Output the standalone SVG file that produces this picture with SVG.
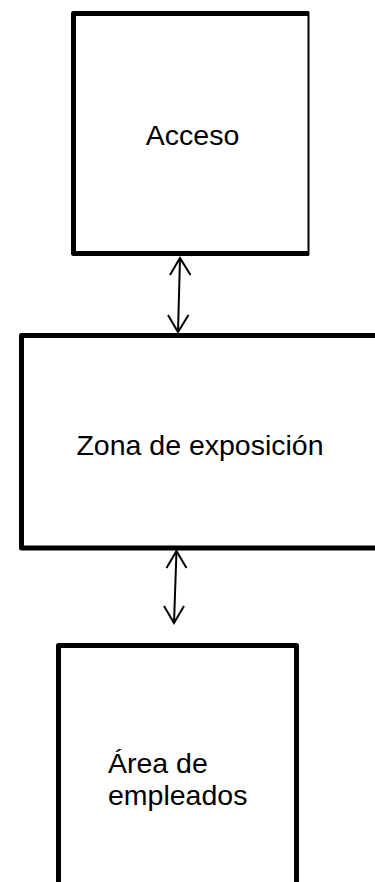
<svg xmlns="http://www.w3.org/2000/svg" width="375" height="882" viewBox="0 0 375 882">
<style>
.box{fill:#fff;stroke:#000;stroke-width:5;stroke-linejoin:round}
.thin{fill:none;stroke:#000;stroke-width:2}
.lbl{font-family:"Liberation Sans",Arial,sans-serif;font-size:28.5px;fill:#000}
.conn{fill:none;stroke:#000;stroke-width:2}
.head{fill:none;stroke:#000;stroke-width:2;stroke-linejoin:miter}
</style>
<rect width="375" height="882" fill="#fff"/>
<g id="node-acceso">
<path class="box" d="M309,13.5 H73.5 V253.5 H309"/>
<line class="thin" x1="308.5" y1="12" x2="308.5" y2="255"/>
<text class="lbl" x="192.5" y="145" text-anchor="middle">Acceso</text>
</g>
<g id="node-zona">
<path class="box" d="M380,335.5 H21.5 V548 H380"/>
<text class="lbl" x="200" y="455" text-anchor="middle">Zona de exposición</text>
</g>
<g id="node-empleados">
<path class="box" d="M58.5,890 V645.5 H296.5 V890"/>
<text class="lbl"><tspan x="108" y="773">Área de</tspan><tspan x="108" y="805">empleados</tspan></text>
</g>
<g id="connectors">
<line class="conn" x1="180" y1="258" x2="178" y2="332"/>
<path class="head" d="M170,275 L180,258 L190.5,275"/>
<path class="head" d="M168,315 L178,332 L188.5,315"/>
<line class="conn" x1="176.5" y1="551" x2="174" y2="623"/>
<path class="head" d="M166.5,568 L176.5,551 L186.5,568"/>
<path class="head" d="M164,606 L174,623 L184,606"/>
</g>
</svg>
